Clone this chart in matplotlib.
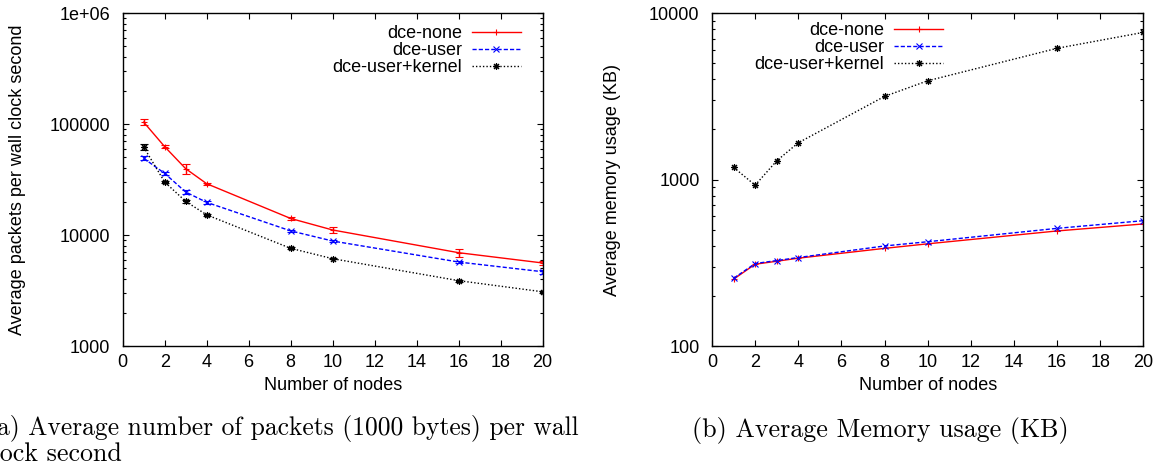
import matplotlib
matplotlib.use("Agg")
import matplotlib.pyplot as plt

plt.rcParams['font.family'] = ['Liberation Sans', 'DejaVu Sans']

nodes = [1, 2, 3, 4, 8, 10, 16, 20]
series = ["dce-none", "dce-user", "dce-user+kernel"]

# (a) packets per wall clock second
pkt_none = [104000, 62500, 39600, 29000, 14100, 11100, 6930, 5600]
pkt_none_err = [6000, 2000, 4100, 700, 400, 650, 630, 230]
pkt_user = [49100, 35900, 24400, 19700, 10900, 8830, 5710, 4670]
pkt_user_err = [2000, 1200, 800, 500, 250, 200, 150, 200]
pkt_kernel = [62000, 30000, 20100, 15200, 7590, 6120, 3880, 3080]
pkt_kernel_err = [4000, 600, 500, 300, 150, 100, 80, 80]

# (b) memory usage (KB)
mem_none = [252, 310, 323, 337, 386, 411, 491, 541]
mem_user = [255, 313, 326, 340, 399, 423, 509, 566]
mem_kernel = [1183, 925, 1295, 1662, 3157, 3918, 6140, 7650]

pkt_ticks = [1000, 10000, 100000, 1000000]
pkt_labels = ["1000", "10000", "100000", "1e+06"]
mem_ticks = [100, 1000, 10000]
mem_labels = ["100", "1000", "10000"]

styles = [
    dict(color='#ff0000', ls='-', marker='+'),
    dict(color='#0000ff', ls=(0, (3, 1.5)), marker='x'),
    dict(color='black', ls=(0, (1, 1.5)), marker=(8, 2, 0)),
]

fig = plt.figure(figsize=(11.64, 4.74), dpi=100)
ax1 = fig.add_axes([0.1054, 0.2700, 0.3608, 0.7025])
ax2 = fig.add_axes([0.6117, 0.2700, 0.3705, 0.7025])

leg_kw = dict(loc='upper right', frameon=False, markerfirst=False, borderpad=0,
              borderaxespad=0, handlelength=2.7, handletextpad=0.55,
              labelspacing=0.0, fontsize=13)

handles = []
for vals, err, st in zip([pkt_none, pkt_user, pkt_kernel],
                         [pkt_none_err, pkt_user_err, pkt_kernel_err], styles):
    c = ax1.errorbar(nodes, vals, yerr=err, lw=1, ms=5, mew=0.8, capsize=3,
                     elinewidth=1, **st)
    handles.append(c[0])
ax1.legend(handles, series, bbox_to_anchor=(0.948, 0.964), **leg_kw)

hs = []
for vals, st in zip([mem_none, mem_user, mem_kernel], styles):
    l, = ax2.plot(nodes, vals, lw=1, ms=5, mew=0.8, **st)
    hs.append(l)
ax2.legend(hs, series, bbox_to_anchor=(0.536, 0.972), **leg_kw)

for ax, ticks, labels, lim in [(ax1, pkt_ticks, pkt_labels, (1000, 1e6)),
                               (ax2, mem_ticks, mem_labels, (100, 10000))]:
    ax.set_yscale('log')
    ax.set_ylim(*lim)
    ax.set_yticks(ticks, labels)
    ax.set_xlim(0, 20)
    ax.set_xticks(range(0, 21, 2))
    ax.tick_params(which='both', direction='in', top=True, right=True,
                   labelsize=13, width=0.8)
    ax.tick_params(which='major', length=4.5)
    ax.tick_params(which='minor', length=2.2)
    ax.tick_params(axis='x', pad=6)
    ax.tick_params(axis='y', pad=9)
    for s in ax.spines.values():
        s.set_linewidth(1.0)
    ax.set_xlabel("Number of nodes", fontsize=13, labelpad=4)

ax1.set_ylabel("Average packets per wall clock second", fontsize=13, labelpad=17)
ax2.set_ylabel("Average memory usage (KB)", fontsize=13, labelpad=20)

cap = dict(family='cmr10', va='baseline')
fig.text(-13 / 1164, 1 - 435 / 474,
         "(a) Average number of packets (1000 bytes) per wall", ha='left',
         fontsize=18.4, **cap)
fig.text(-19 / 1164, 1 - 461 / 474, "clock second", ha='left', fontsize=18.7, **cap)
fig.text(880 / 1164, 1 - 436.7 / 474, "(b) Average Memory usage (KB)",
         ha='center', fontsize=18.7, **cap)

fig.savefig("out.png", dpi=100)
